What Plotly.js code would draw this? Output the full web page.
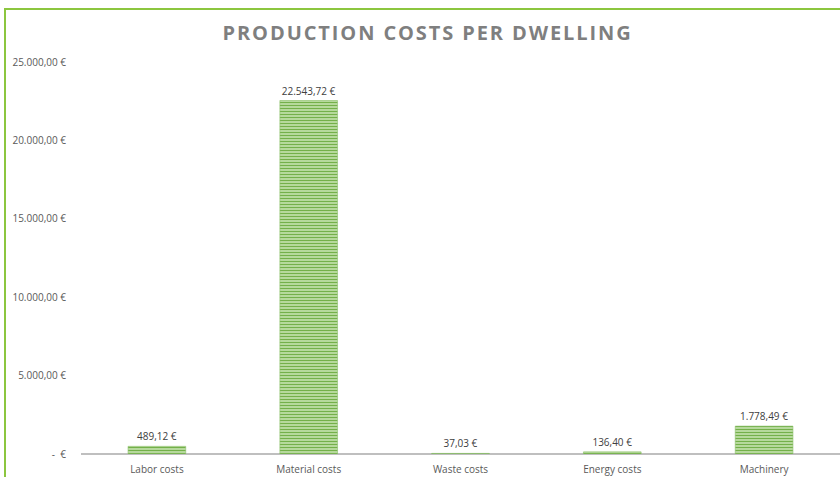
<!DOCTYPE html>
<html>
<head>
<meta charset="utf-8">
<script src="https://cdn.plot.ly/plotly-3.0.1.min.js"></script>
<style>
  html, body { margin: 0; padding: 0; background: #ffffff; }
  #wrap { position: relative; width: 840px; height: 477px; overflow: hidden; }
  #chart { position: absolute; left: 0; top: 0; width: 840px; height: 477px; }
  #frame { position: absolute; left: 4px; top: 8px; width: 900px; height: 500px;
           border-left: 2px solid #8cc63f; border-top: 2px solid #8cc63f; pointer-events: none; }
  #chart .gtitle { letter-spacing: 1.9px; }
</style>
</head>
<body>
<div id="wrap">
  <div id="chart"></div>
  <div id="frame"></div>
</div>
<script>
const categories = ["Labor costs", "Material costs", "Waste costs", "Energy costs", "Machinery"];
const costs = [489.12, 22543.72, 37.03, 136.40, 1778.49];
const tickValues = [0, 5000, 10000, 15000, 20000, 25000];
const tickLabels = ["-  €", "5.000,00 €", "10.000,00 €", "15.000,00 €", "20.000,00 €", "25.000,00 €"];

function euro(v) {
  const parts = v.toFixed(2).split(".");
  const intPart = parts[0].replace(/\B(?=(\d{3})+(?!\d))/g, ".");
  return intPart + "," + parts[1] + " €";
}

const trace = {
  type: "bar",
  x: categories,
  y: costs,
  text: costs.map(euro),
  textposition: "outside",
  cliponaxis: false,
  textfont: { family: "Open Sans, sans-serif", size: 10, color: "#404040" },
  hoverinfo: "none",
  width: 0.38,
  marker: {
    color: "#b5d99a",
    line: { color: "#8cc06a", width: 0.6 },
    pattern: { shape: "-", fgcolor: "#74b04a", bgcolor: "#c4e2ad", size: 3, solidity: 0.45 }
  }
};

const layout = {
  width: 840,
  height: 477,
  margin: { l: 81, r: 0, t: 62, b: 23 },
  paper_bgcolor: "#ffffff",
  plot_bgcolor: "#ffffff",
  showlegend: false,
  title: {
    text: "<b>PRODUCTION COSTS PER DWELLING</b>",
    font: { family: "Open Sans, sans-serif", size: 20, color: "#7f7f7f" },
    xref: "container", x: 0.509, xanchor: "center",
    yref: "container", y: 0.931, yanchor: "middle"
  },
  xaxis: {
    type: "category",
    showgrid: false,
    showline: false,
    zeroline: false,
    ticks: "",
    tickfont: { family: "Open Sans, sans-serif", size: 10, color: "#595959" },
    ticklabelstandoff: 8
  },
  yaxis: {
    range: [0, 25000],
    tickvals: tickValues,
    ticktext: tickLabels,
    showgrid: false,
    showline: false,
    zeroline: true,
    zerolinecolor: "#bfbfbf",
    zerolinewidth: 1.5,
    ticks: "",
    ticklabelstandoff: 14,
    tickfont: { family: "Open Sans, sans-serif", size: 10, color: "#595959" }
  },
  bargap: 0.62
};

Plotly.newPlot("chart", [trace], layout, { displayModeBar: false, staticPlot: true });
</script>
</body>
</html>
